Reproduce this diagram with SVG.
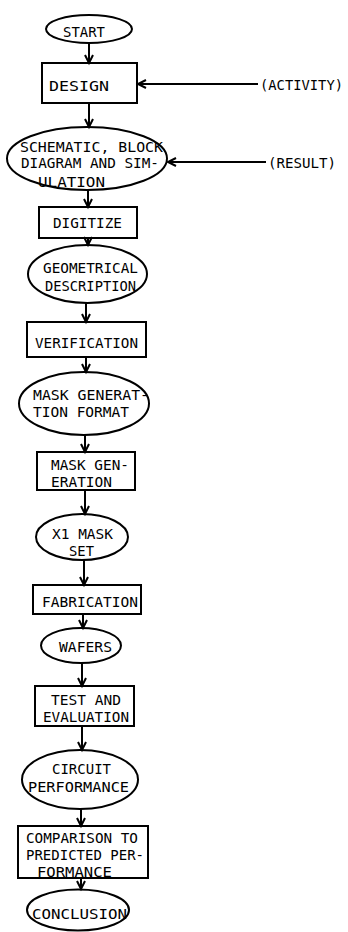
<svg xmlns="http://www.w3.org/2000/svg" width="348" height="932" viewBox="0 0 348 932">
<style>
.s{fill:none;stroke:#000;stroke-width:2}
.t{font-family:"DejaVu Sans Mono","Liberation Mono",monospace;font-size:14.5px;fill:#000}
.c{fill:none;stroke:#000;stroke-width:2}
</style>
<defs>
<marker id="ah" markerUnits="userSpaceOnUse" markerWidth="12" markerHeight="12" refX="9" refY="5" orient="auto">
<path d="M1,1 L9,5 L1,9" fill="none" stroke="#000" stroke-width="2"/>
</marker>
</defs>
<rect width="348" height="932" fill="#fff"/>
<g id="connectors">
<line class="c" x1="89" y1="43" x2="89" y2="63" marker-end="url(#ah)"/>
<line class="c" x1="258" y1="84" x2="138" y2="84" marker-end="url(#ah)"/>
<line class="c" x1="89" y1="103" x2="89" y2="127" marker-end="url(#ah)"/>
<line class="c" x1="266" y1="162" x2="168" y2="162" marker-end="url(#ah)"/>
<line class="c" x1="88" y1="190" x2="88" y2="207" marker-end="url(#ah)"/>
<line class="c" x1="88" y1="238" x2="88" y2="245" marker-end="url(#ah)"/>
<line class="c" x1="86" y1="303" x2="86" y2="322" marker-end="url(#ah)"/>
<line class="c" x1="86" y1="357" x2="86" y2="372" marker-end="url(#ah)"/>
<line class="c" x1="85" y1="435" x2="85" y2="452" marker-end="url(#ah)"/>
<line class="c" x1="85" y1="490" x2="85" y2="514" marker-end="url(#ah)"/>
<line class="c" x1="84" y1="560" x2="84" y2="585" marker-end="url(#ah)"/>
<line class="c" x1="83" y1="614" x2="83" y2="628" marker-end="url(#ah)"/>
<line class="c" x1="82" y1="663" x2="82" y2="686" marker-end="url(#ah)"/>
<line class="c" x1="82" y1="726" x2="82" y2="750" marker-end="url(#ah)"/>
<line class="c" x1="81" y1="809" x2="81" y2="826" marker-end="url(#ah)"/>
<line class="c" x1="81" y1="878" x2="81" y2="889" marker-end="url(#ah)"/>
</g>
<g id="start"><ellipse class="s" cx="89" cy="29" rx="43" ry="14"/><text class="t" x="63" y="36.5" textLength="42" lengthAdjust="spacingAndGlyphs">START</text></g>
<g id="design"><rect class="s" x="42" y="63" width="95" height="40"/><text class="t" x="49" y="90.5" textLength="60" lengthAdjust="spacingAndGlyphs">DESIGN</text></g>
<g id="activity"><text class="t" x="260" y="89.5" textLength="83" lengthAdjust="spacingAndGlyphs">(ACTIVITY)</text></g>
<g id="schematic"><ellipse class="s" cx="87" cy="158.5" rx="80" ry="31.5"/>
<text class="t" x="20" y="151.5" textLength="143" lengthAdjust="spacingAndGlyphs">SCHEMATIC, BLOCK</text>
<text class="t" x="21" y="168" textLength="138" lengthAdjust="spacingAndGlyphs">DIAGRAM AND SIM-</text>
<text class="t" x="38" y="186.5" textLength="67" lengthAdjust="spacingAndGlyphs">ULATION</text></g>
<g id="result"><text class="t" x="268" y="167.5" textLength="68" lengthAdjust="spacingAndGlyphs">(RESULT)</text></g>
<g id="digitize"><rect class="s" x="39" y="207" width="98" height="31"/><text class="t" x="53" y="227.5" textLength="69" lengthAdjust="spacingAndGlyphs">DIGITIZE</text></g>
<g id="geometrical"><ellipse class="s" cx="87.5" cy="274" rx="59.5" ry="29"/>
<text class="t" x="43" y="272.5" textLength="95" lengthAdjust="spacingAndGlyphs">GEOMETRICAL</text>
<text class="t" x="45" y="290.5" textLength="91" lengthAdjust="spacingAndGlyphs">DESCRIPTION</text></g>
<g id="verification"><rect class="s" x="27" y="322" width="119" height="35"/><text class="t" x="35" y="347.5" textLength="103" lengthAdjust="spacingAndGlyphs">VERIFICATION</text></g>
<g id="maskformat"><ellipse class="s" cx="84" cy="403.5" rx="65" ry="31.5"/>
<text class="t" x="33" y="399.5" textLength="116" lengthAdjust="spacingAndGlyphs">MASK GENERAT-</text>
<text class="t" x="33" y="416.5" textLength="96" lengthAdjust="spacingAndGlyphs">TION FORMAT</text></g>
<g id="maskgen"><rect class="s" x="37" y="452" width="98" height="38"/>
<text class="t" x="51" y="469.5" textLength="78" lengthAdjust="spacingAndGlyphs">MASK GEN-</text>
<text class="t" x="51" y="486.5" textLength="61" lengthAdjust="spacingAndGlyphs">ERATION</text></g>
<g id="maskset"><ellipse class="s" cx="82" cy="537" rx="46" ry="23"/>
<text class="t" x="52" y="538.5" textLength="61" lengthAdjust="spacingAndGlyphs">X1 MASK</text>
<text class="t" x="69" y="555.5" textLength="25" lengthAdjust="spacingAndGlyphs">SET</text></g>
<g id="fabrication"><rect class="s" x="33" y="585" width="108" height="29"/><text class="t" x="42" y="606.5" textLength="96" lengthAdjust="spacingAndGlyphs">FABRICATION</text></g>
<g id="wafers"><ellipse class="s" cx="81" cy="645.5" rx="40" ry="17.5"/><text class="t" x="59" y="651.5" textLength="53" lengthAdjust="spacingAndGlyphs">WAFERS</text></g>
<g id="test"><rect class="s" x="35" y="686" width="99" height="40"/>
<text class="t" x="51" y="704.5" textLength="70" lengthAdjust="spacingAndGlyphs">TEST AND</text>
<text class="t" x="43" y="721.5" textLength="86" lengthAdjust="spacingAndGlyphs">EVALUATION</text></g>
<g id="circuit"><ellipse class="s" cx="80" cy="779.5" rx="58" ry="29.5"/>
<text class="t" x="52" y="773.5" textLength="59" lengthAdjust="spacingAndGlyphs">CIRCUIT</text>
<text class="t" x="28" y="791.5" textLength="101" lengthAdjust="spacingAndGlyphs">PERFORMANCE</text></g>
<g id="comparison"><rect class="s" x="18" y="826" width="130" height="52"/>
<text class="t" x="26" y="842.5" textLength="112" lengthAdjust="spacingAndGlyphs">COMPARISON TO</text>
<text class="t" x="26" y="859.5" textLength="118" lengthAdjust="spacingAndGlyphs">PREDICTED PER-</text>
<text class="t" x="37" y="876.5" textLength="75" lengthAdjust="spacingAndGlyphs">FORMANCE</text></g>
<g id="conclusion"><ellipse class="s" cx="78" cy="910" rx="51" ry="20.5"/><text class="t" x="32" y="918.5" textLength="95" lengthAdjust="spacingAndGlyphs">CONCLUSION</text></g>
</svg>
